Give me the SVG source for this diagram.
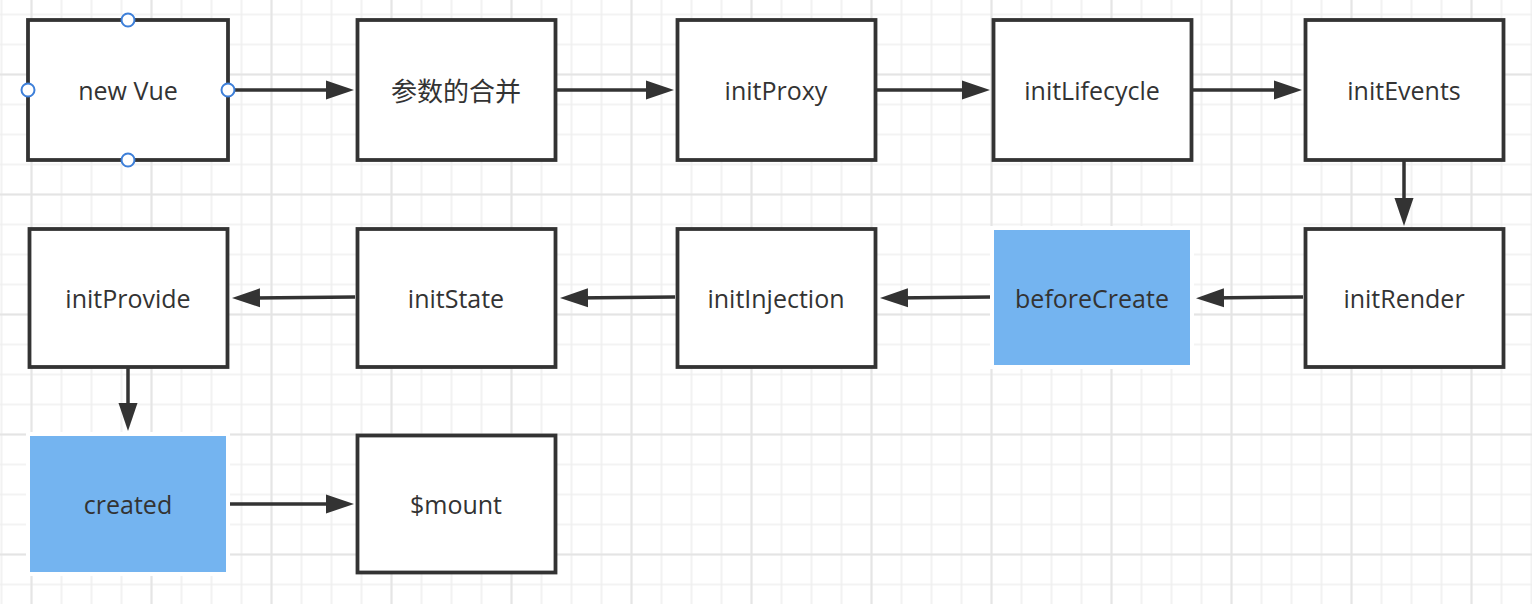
<svg xmlns="http://www.w3.org/2000/svg" width="1532" height="604" viewBox="0 0 1532 604">
  <defs>
    <pattern id="minorGrid" patternUnits="userSpaceOnUse" x="-13.5" y="-0.5" width="30" height="30">
      <path d="M15 0V30M0 15H30" stroke="#efefef" stroke-width="1.6" fill="none"/>
    </pattern>
    <pattern id="majorGrid" patternUnits="userSpaceOnUse" x="-28.5" y="14.5" width="120" height="120">
      <path d="M60 0V120M0 60H120" stroke="#e4e4e4" stroke-width="1.8" fill="none"/>
    </pattern>
    <marker id="arrow" markerUnits="userSpaceOnUse" markerWidth="30" markerHeight="22" refX="16" refY="11" orient="auto">
      <path d="M0,1.5 L28,11 L0,20.5 Z" fill="#333333"/>
    </marker>
    <style>
      .box { fill: #ffffff; stroke: #333333; stroke-width: 3.8; }
      .blue { fill: #74b4f0; stroke: #ffffff; stroke-width: 4; }
      .label { font-family: "Open Sans", "Noto Sans CJK SC", sans-serif; font-size: 25px; fill: #333333; text-anchor: middle; }
      .cjk { font-family: "Noto Sans CJK SC", sans-serif; font-size: 26px; }
      .edge { stroke: #333333; stroke-width: 3.5; fill: none; marker-end: url(#arrow); }
      .handle { fill: #ffffff; stroke: #3d7fd9; stroke-width: 2; }
    </style>
  </defs>

  <rect x="0" y="0" width="1532" height="604" fill="#ffffff"/>
  <rect x="0" y="0" width="1532" height="604" fill="url(#minorGrid)"/>
  <rect x="0" y="0" width="1532" height="604" fill="url(#majorGrid)"/>

  <g id="connectors">
    <line class="edge" x1="230" y1="90" x2="342" y2="90"/>
    <line class="edge" x1="557" y1="90" x2="662" y2="90"/>
    <line class="edge" x1="877" y1="90" x2="978" y2="90"/>
    <line class="edge" x1="1193" y1="90" x2="1290" y2="90"/>
    <line class="edge" x1="1404" y1="161" x2="1404" y2="214"/>
    <line class="edge" x1="1303" y1="297" x2="1208" y2="298"/>
    <line class="edge" x1="991" y1="297" x2="892" y2="298"/>
    <line class="edge" x1="675" y1="297" x2="572" y2="298"/>
    <line class="edge" x1="355" y1="297" x2="244" y2="298"/>
    <line class="edge" x1="128" y1="368" x2="128" y2="419"/>
    <line class="edge" x1="230" y1="504" x2="342" y2="504"/>
  </g>

  <g id="node-newVue">
    <rect class="box" x="28" y="20" width="200" height="140"/>
    <text class="label" x="128" y="99.5">new Vue</text>
    <circle class="handle" cx="128" cy="20" r="6.5"/>
    <circle class="handle" cx="28" cy="90" r="6.5"/>
    <circle class="handle" cx="228" cy="90" r="6.5"/>
    <circle class="handle" cx="128" cy="160" r="6.5"/>
  </g>
  <g id="node-merge">
    <rect class="box" x="357.5" y="20" width="198" height="140"/>
    <text class="label cjk" x="456" y="100.5">参数的合并</text>
  </g>
  <g id="node-initProxy">
    <rect class="box" x="677.5" y="20" width="198" height="140"/>
    <text class="label" x="776" y="99.5">initProxy</text>
  </g>
  <g id="node-initLifecycle">
    <rect class="box" x="993.5" y="20" width="198" height="140"/>
    <text class="label" x="1092" y="99.5">initLifecycle</text>
  </g>
  <g id="node-initEvents">
    <rect class="box" x="1305.5" y="20" width="198" height="140"/>
    <text class="label" x="1404" y="99.5">initEvents</text>
  </g>

  <g id="node-initProvide">
    <rect class="box" x="29.5" y="229" width="198" height="138"/>
    <text class="label" x="128" y="307.5">initProvide</text>
  </g>
  <g id="node-initState">
    <rect class="box" x="357.5" y="229" width="198" height="138"/>
    <text class="label" x="456" y="307.5">initState</text>
  </g>
  <g id="node-initInjection">
    <rect class="box" x="677.5" y="229" width="198" height="138"/>
    <text class="label" x="776" y="307.5">initInjection</text>
  </g>
  <g id="node-beforeCreate">
    <rect class="blue" x="992" y="228" width="200" height="139"/>
    <text class="label" x="1092" y="307.5">beforeCreate</text>
  </g>
  <g id="node-initRender">
    <rect class="box" x="1305.5" y="229" width="198" height="138"/>
    <text class="label" x="1404" y="307.5">initRender</text>
  </g>

  <g id="node-created">
    <rect class="blue" x="28" y="434" width="200" height="140"/>
    <text class="label" x="128" y="513.5">created</text>
  </g>
  <g id="node-mount">
    <rect class="box" x="357.5" y="435.5" width="198" height="137"/>
    <text class="label" x="456" y="513.5">$mount</text>
  </g>
</svg>
